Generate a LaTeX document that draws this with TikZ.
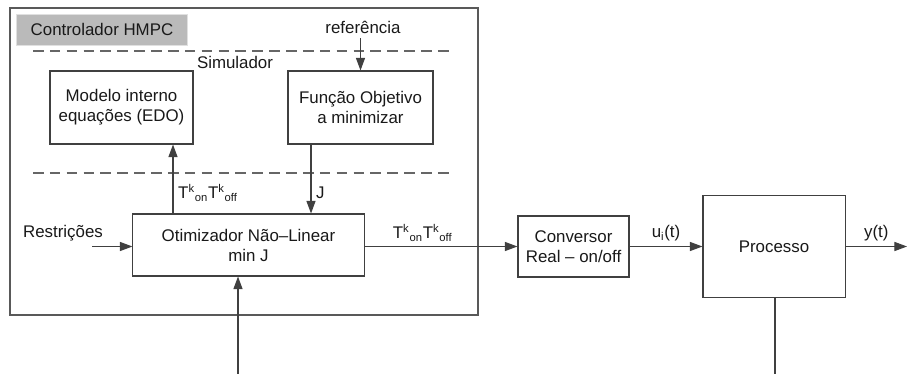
\documentclass[tikz,border=0pt]{standalone}
\usepackage{fontspec}
\setmainfont{Liberation Sans}
\usetikzlibrary{arrows.meta}

\begin{document}
\begin{tikzpicture}[x=0.025cm,y=-0.025cm,
      font=\fontsize{12}{14.2}\selectfont,
      every node/.style={text=black!90},
      block/.style={rectangle,draw=black!75,line width=0.75pt,fill=white,
                    align=center,inner sep=0pt},
      frame/.style={rectangle,draw=black!65,line width=0.9pt,inner sep=0pt},
      hdr/.style={rectangle,fill=black!27,draw=black!12,line width=0.7pt,inner sep=0pt},
      single/.style={draw=black!75,line width=0.75pt,-{Triangle[length=9pt,width=6.5pt]}},
      plain/.style={draw=black!75,line width=0.75pt},
      sep/.style={draw=black!60,line width=0.75pt,dash pattern=on 7.5pt off 4.5pt},
    ]
      \useasboundingbox (0,0) rectangle (907,374);
      % controller frame
      \node[frame,minimum width=11.7cm,minimum height=7.675cm] (hmpc) at (244,161.5) {};
      \node[hdr,minimum width=4.25cm,minimum height=0.775cm] (hdr) at (102,29.5) {Controlador HMPC};
      \path[sep] (33,51) -- (450,51);
      \path[sep] (33,173) -- (450,173);
      \node (ref) at (363,27) {referência};
      \node (sim) at (235,62) {Simulador};
      \node[block,minimum width=3.575cm,minimum height=1.825cm] (modelo) at (121.5,107.5)
        {Modelo interno\\equações (EDO)};
      \node[block,minimum width=3.625cm,minimum height=1.825cm] (funcao) at (360.5,107.5)
        {Função Objetivo\\a minimizar};
      \node[block,minimum width=5.775cm,minimum height=1.55cm] (otim) at (248.5,245)
        {Otimizador Não–Linear\\min J};
      \node (restr) at (63,233) {Restrições};
      % plant side
      \node[block,minimum width=2.775cm,minimum height=1.525cm] (conv) at (573.5,246.5)
        {Conversor\\Real – on/off};
      \node[block,minimum width=3.55cm,minimum height=2.55cm] (proc) at (774,246.5) {Processo};

      \coordinate (tk) at (173,0);
      \coordinate (jx) at (311,0);
      \coordinate (rin) at (92,246.5);
      \coordinate (bin) at (238,374);
      \coordinate (yout) at (907,246.5);
      \coordinate (pbot) at (775,374);

      \path[single] (ref.south -| funcao.north) -- (funcao.north);
      \path[single] (tk |- otim.north) -- (tk |- modelo.south)
        node[pos=0.3,right] {T\textsuperscript{k}\textsubscript{on}T\textsuperscript{k}\textsubscript{off}};
      \path[single] (jx |- funcao.south) -- (jx |- otim.north) node[pos=0.7,right] {J};
      \path[single] (rin) -- (rin -| otim.west);
      \path[single] (bin) -- (bin |- otim.south);
      \path[single] (otim.east |- conv.west) -- (conv.west)
        node[pos=0.38,above] {T\textsuperscript{k}\textsubscript{on}T\textsuperscript{k}\textsubscript{off}};
      \path[single] (conv.east) -- (conv.east -| proc.west) node[midway,above] {u\textsubscript{i}(t)};
      \path[single] (proc.east) -- (yout) node[midway,above] {y(t)};
      \path[plain] (pbot |- proc.south) -- (pbot);
    \end{tikzpicture}
\end{document}
